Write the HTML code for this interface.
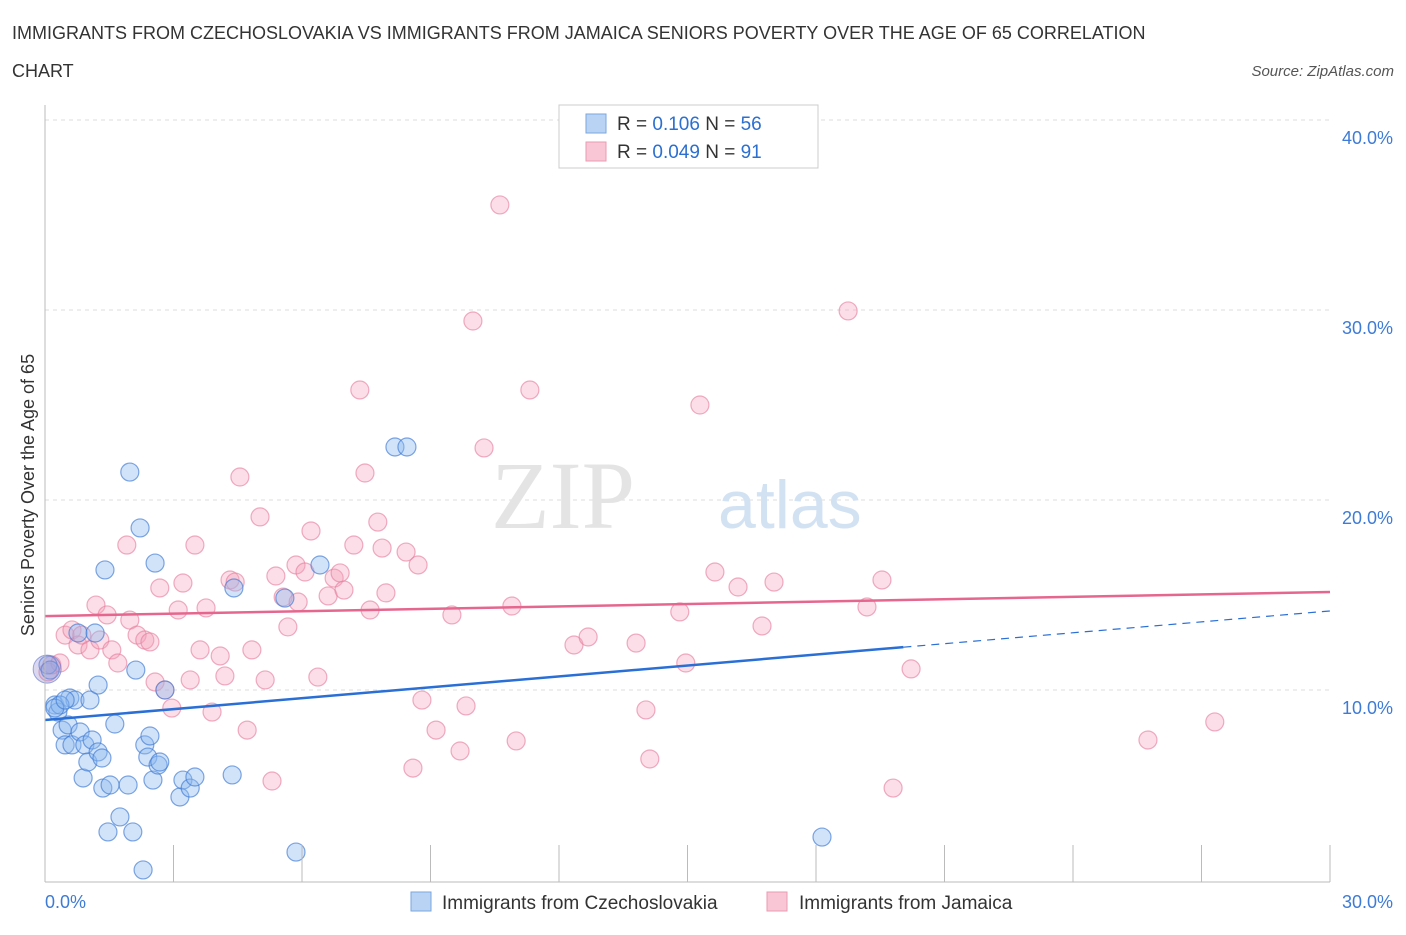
<!DOCTYPE html>
<html><head><meta charset="utf-8"><style>
body{margin:0;background:#fff;font-family:"Liberation Sans",sans-serif}
svg text{font-family:"Liberation Sans",sans-serif}
</style></head><body>
<svg id="c" width="1406" height="930" xmlns="http://www.w3.org/2000/svg">
<text x="12" y="39" font-size="18" fill="#333">IMMIGRANTS FROM CZECHOSLOVAKIA VS IMMIGRANTS FROM JAMAICA SENIORS POVERTY OVER THE AGE OF 65 CORRELATION</text>
<text x="12" y="77" font-size="18" fill="#333">CHART</text>
<text x="1394" y="76" font-size="15" fill="#555" font-style="italic" text-anchor="end">Source: ZipAtlas.com</text>
<text x="34" y="495" font-size="18" fill="#333" text-anchor="middle" transform="rotate(-90 34 495)">Seniors Poverty Over the Age of 65</text>
<g id="grid"></g>
<text x="635" y="528" font-size="96" fill="#e4e4e4" text-anchor="end" font-family="Liberation Serif" style="font-family:'Liberation Serif',serif">ZIP</text>
<text x="718" y="528" font-size="68" fill="#d3e2f3">atlas</text>
<g id="pts"></g>
<g id="lines"></g>
<g id="ax"></g>
<g>
<rect x="559" y="105" width="259" height="63" fill="#fff" stroke="#ccc"/>
<rect x="586" y="114" width="20" height="19" fill="#b9d3f5" stroke="#7aa7e0"/>
<rect x="586" y="142" width="20" height="19" fill="#f9c6d5" stroke="#ec9ab3"/>
<text x="617" y="130" font-size="19" fill="#333">R =  <tspan fill="#2b6fd0">0.106</tspan>    N = <tspan fill="#2b6fd0">56</tspan></text>
<text x="617" y="158" font-size="19" fill="#333">R = <tspan fill="#2b6fd0">0.049</tspan>    N =  <tspan fill="#2b6fd0">91</tspan></text>
</g>
<g>
<rect x="411" y="892" width="20" height="19" fill="#b9d3f5" stroke="#7aa7e0"/>
<text x="442" y="909" font-size="19" fill="#333">Immigrants from Czechoslovakia</text>
<rect x="767" y="892" width="20" height="19" fill="#f9c6d5" stroke="#ec9ab3"/>
<text x="799" y="909" font-size="19" fill="#333">Immigrants from Jamaica</text>
</g>
</svg>
<script>
const blueX=[0.07,0.12,0.23,0.30,0.40,0.47,0.58,0.63,0.54,0.70,0.82,0.77,0.89,0.93,1.00,1.05,1.10,1.17,1.24,1.24,1.33,1.35,1.40,1.47,1.52,1.63,1.75,1.94,1.98,2.05,2.12,2.22,2.29,2.33,2.40,2.45,2.52,2.57,2.64,2.68,2.80,3.15,3.22,3.39,3.50,4.37,4.41,5.60,5.86,6.42,8.17,8.45,18.14,0.35,0.23,0.47];
const blueY=[11.32,11.05,9.21,8.84,7.89,7.11,9.58,7.11,8.16,9.47,7.79,13.0,5.37,7.11,6.21,9.47,7.37,13.0,6.74,10.26,6.42,4.84,16.32,2.53,5.0,8.21,3.32,5.0,21.47,2.53,11.05,18.53,0.53,7.11,6.47,7.58,5.26,16.68,6.05,6.21,10.0,4.37,5.26,4.84,5.42,5.53,15.37,14.84,1.47,16.58,22.79,22.79,2.26,9.21,9.05,9.47];
const pinkX=[0.07,0.16,0.35,0.47,0.63,0.77,0.86,1.05,1.19,1.28,1.45,1.56,1.70,1.91,1.98,2.15,2.33,2.45,2.57,2.68,2.80,2.96,3.11,3.22,3.39,3.50,3.62,3.76,3.90,4.09,4.20,4.32,4.44,4.55,4.72,4.83,5.02,5.14,5.30,5.39,5.56,5.67,5.86,5.91,6.07,6.21,6.37,6.61,6.75,6.89,6.98,7.21,7.35,7.47,7.59,7.77,7.87,7.96,8.43,8.71,8.59,8.80,9.13,9.50,9.69,9.83,9.99,10.25,10.62,10.90,11.00,11.32,12.35,12.68,13.80,14.03,14.12,14.82,14.96,15.29,15.64,16.18,16.74,17.02,18.75,19.19,19.54,19.80,20.22,25.75,27.31];
const pinkY=[10.95,11.32,11.42,12.89,13.16,12.37,12.89,12.11,14.47,12.63,13.95,12.11,11.42,17.63,13.68,12.89,12.63,12.53,10.42,15.37,10.0,9.05,14.21,15.63,10.53,17.63,12.11,14.32,8.84,11.79,10.74,15.79,15.68,21.21,7.89,12.11,19.11,10.53,5.21,16.0,14.89,13.32,16.58,14.63,16.21,18.37,10.68,14.95,15.89,16.16,15.26,17.63,25.79,21.42,14.21,18.84,17.47,15.11,17.26,16.58,5.89,9.47,7.89,13.95,6.79,9.16,29.42,22.74,35.53,14.42,7.32,25.79,12.37,12.79,12.47,8.95,6.37,14.11,11.42,25.0,16.21,15.42,13.37,15.68,29.95,14.37,15.79,4.84,11.11,7.37,8.32];
const blueTrend=[8.42,14.16];   // y at x=0 and x=30
const blueSolidEnd=20.04;
const pinkTrend=[13.89,15.16];
const yTicks=[10,20,30,40];
const yTickLabels=["10.0%","20.0%","30.0%","40.0%"];
const xTickLabels=["0.0%","30.0%"];
const NS="http://www.w3.org/2000/svg";
const X=v=>45+v/30*1285, Y=v=>880-v*19;
function mk(t,a,p){const e=document.createElementNS(NS,t);for(const k in a)e.setAttribute(k,a[k]);p.appendChild(e);return e;}
const grid=document.getElementById('grid'),ax=document.getElementById('ax'),pts=document.getElementById('pts'),lines=document.getElementById('lines');
yTicks.forEach((v,i)=>{
 const l=mk('line',{x1:45,x2:1330,y1:Y(v),y2:Y(v),stroke:'#ddd','stroke-dasharray':'4,4'},grid);
 
 
 const t=mk('text',{x:1393,y:Y(v)+24,'font-size':18,fill:'#3d7bd6','text-anchor':'end'},ax);t.textContent=yTickLabels[i];
 
 
});
const a1=mk('line',{x1:45,x2:45,y1:105,y2:882,stroke:'#bbb'},ax);


const a2=mk('line',{x1:45,x2:1330,y1:882,y2:882,stroke:'#bbb'},ax);


for(let i=0;i<=10;i++){const tk=mk('line',{x1:X(i*3),x2:X(i*3),y1:845,y2:882,stroke:'#bbb'},ax);
 
 }
[[0,'start',45],[30,'end',1393]].forEach((d,i)=>{const t=mk('text',{x:d[2],y:908,'font-size':18,fill:'#3d7bd6','text-anchor':d[1]},ax);t.textContent=xTickLabels[i];
 
 });
pinkX.forEach((x,i)=>{const c=mk('circle',{cx:X(x),cy:Y(pinkY[i]),r:9,fill:'rgba(244,160,186,0.35)',stroke:'rgba(230,120,155,0.6)','stroke-width':1.2},pts);
 
 });
blueX.forEach((x,i)=>{const c=mk('circle',{cx:X(x),cy:Y(blueY[i]),r:9,fill:'rgba(140,185,240,0.4)',stroke:'rgba(60,120,210,0.65)','stroke-width':1.2},pts);
 
 });
const big=mk('circle',{cx:X(0.05),cy:Y(11.1),r:14,fill:'rgba(150,140,210,0.35)',stroke:'rgba(90,110,200,0.6)'},pts);


const by=x=>blueTrend[0]+(blueTrend[1]-blueTrend[0])*x/30, py=x=>pinkTrend[0]+(pinkTrend[1]-pinkTrend[0])*x/30;
const l1=mk('line',{x1:X(0),y1:Y(by(0)),x2:X(blueSolidEnd),y2:Y(by(blueSolidEnd)),stroke:'#2a6fd6','stroke-width':2.5},lines);


const l2=mk('line',{x1:X(blueSolidEnd),y1:Y(by(blueSolidEnd)),x2:X(30),y2:Y(by(30)),stroke:'#2a6fd6','stroke-width':1.2,'stroke-dasharray':'8,6'},lines);


const l3=mk('line',{x1:X(0),y1:Y(py(0)),x2:X(30),y2:Y(py(30)),stroke:'#e5678f','stroke-width':2.5},lines);


</script>
</body></html>
